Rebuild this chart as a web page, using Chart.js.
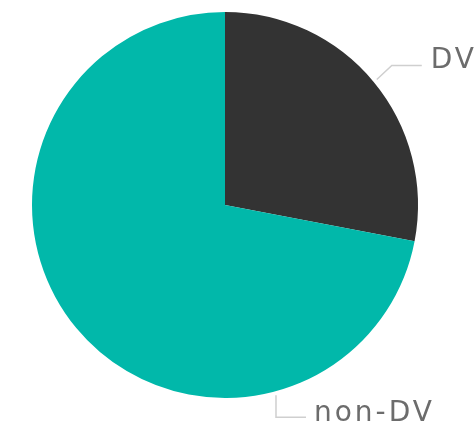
<!DOCTYPE html>
<html>
<head>
<meta charset="utf-8">
<script src="https://cdn.jsdelivr.net/npm/chart.js@4"></script>
<style>
  html, body { margin: 0; padding: 0; background: #fff; }
  #wrap { width: 475px; height: 431px; }
</style>
</head>
<body>
<div id="wrap"><canvas id="pie"></canvas></div>
<script>
const labels = ['DV', 'non-DV'];
const values = [28, 72];
const colors = ['#333333', '#01B8AA'];

// where the leader line leaves the pie (degrees clockwise from 12 o'clock), null = slice middle
const labelAngles = [null, 165];

const leaderLabels = {
  id: 'leaderLabels',
  afterDraw(chart) {
    const ctx = chart.ctx;
    const arcs = chart.getDatasetMeta(0).data;
    ctx.save();
    ctx.font = '28px "DejaVu Sans"';
    ctx.letterSpacing = '3px';
    ctx.textBaseline = 'middle';
    arcs.forEach((arc, i) => {
      const { x, y, outerRadius, startAngle, endAngle } = arc.getProps(['x', 'y', 'outerRadius', 'startAngle', 'endAngle'], true);
      const a = labelAngles[i] == null ? (startAngle + endAngle) / 2 : (labelAngles[i] - 90) * Math.PI / 180;
      const px = x + Math.cos(a) * (outerRadius + 4);
      const py = y + Math.sin(a) * (outerRadius + 4);
      ctx.strokeStyle = '#cfcfcf';
      ctx.lineWidth = 1.5;
      ctx.beginPath();
      ctx.moveTo(px, py);
      let tx, ty;
      if (Math.sin(a) < 0) {
        // upper right: diagonal then horizontal
        ctx.lineTo(px + 15, py - 14);
        ctx.lineTo(px + 45, py - 14);
        tx = px + 54; ty = py - 19;
      } else {
        // bottom: straight down then horizontal
        ctx.lineTo(px, py + 22);
        ctx.lineTo(px + 30, py + 22);
        tx = px + 38; ty = py + 18;
      }
      ctx.stroke();
      ctx.fillStyle = '#6c6c6c';
      ctx.fillText(labels[i], tx, ty);
    });
    ctx.restore();
  }
};

new Chart(document.getElementById('pie'), {
  type: 'pie',
  data: {
    labels: labels,
    datasets: [
      { data: values, backgroundColor: colors, borderWidth: 0 }
    ]
  },
  options: {
    responsive: true,
    maintainAspectRatio: false,
    animation: false,
    layout: {
      padding: { left: 32, right: 57, top: 12, bottom: 33 }
    },
    plugins: {
      legend: { display: false },
      tooltip: { enabled: false }
    }
  },
  plugins: [leaderLabels]
});
</script>
</body>
</html>
